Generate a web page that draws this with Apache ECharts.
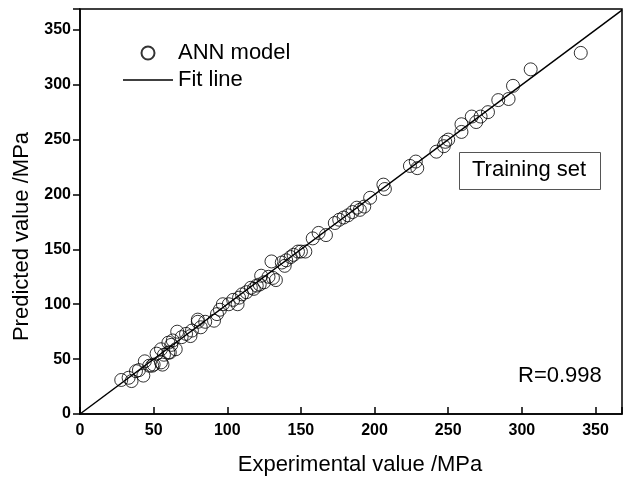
<!DOCTYPE html>
<html>
<head>
<meta charset="utf-8">
<script src="https://cdn.jsdelivr.net/npm/echarts@6/dist/echarts.min.js"></script>
<style>html,body{margin:0;padding:0;background:#fff;}#c{width:625px;height:481px;}</style>
</head>
<body>
<div id="c"></div>
<script>
var experimental = [28,33,35,38,40,43,44,47,49,50,52,55,55,56,57,60,60,61,62,63,65,66,69,72,75,76,80,80,82,85,91,93,95,97,101,104,107,108,110,113,116,118,120,122,123,125,128,130,131,133,137,139,140,143,145,148,150,153,158,162,167,173,176,179,182,185,188,190,193,197,206,207,224,228,229,242,247,248,250,259,259,266,269,272,277,284,291,294,306,340];
var predicted    = [31,33,30,39,40,35,48,44,44,45,55,47,59,45,54,56,65,56,63,67,59,75,70,73,71,76,86,84,79,84,85,91,95,100,100,104,100,106,109,111,115,114,117,118,126,120,125,139,124,122,138,135,140,143,145,148,148,148,160,165,163,174,177,179,181,184,188,186,189,197,209,205,226,230,224,239,244,248,250,257,264,271,266,271,275,286,287,299,314,329];
var fitLine = [[0,0],[368,368]];
var xTicks = [0,50,100,150,200,250,300,350];
var yTicks = [0,50,100,150,200,250,300,350];
var rValue = 'R=0.998';
var boxLabel = 'Training set';

var points = experimental.map(function(x,i){return [x, predicted[i]];});
var FONT = 'Liberation Sans, Arial, sans-serif';
var chart = echarts.init(document.getElementById('c'), null, {renderer:'canvas'});
chart.setOption({
  animation:false,
  backgroundColor:'#fff',
  grid:{left:80, top:9, width:545, height:406, show:true, borderColor:'#000', borderWidth:1.5},
  legend:{
    orient:'vertical', left:118, top:37, itemWidth:50, itemHeight:13, itemGap:5,
    textStyle:{fontFamily:FONT, fontSize:22, color:'#000'},
    data:[
      {name:'ANN model', icon:'circle'},
      {name:'Fit line', icon:'path://M0,0L50,0L50,1.5L0,1.5Z'}
    ]
  },
  xAxis:{
    type:'value', min:0, max:368, interval:50,
    name:'Experimental value /MPa', nameLocation:'middle', nameGap:40,
    nameTextStyle:{fontFamily:FONT, fontSize:22, color:'#000', padding:[0,0,0,18]},
    axisLine:{lineStyle:{color:'#000', width:1.5}},
    axisTick:{inside:true, length:7, lineStyle:{color:'#000', width:1.5}},
    axisLabel:{fontFamily:FONT, fontSize:16, fontWeight:'bold', color:'#000', margin:9,
      formatter:function(v){return xTicks.indexOf(v)>=0 ? String(v) : '';}},
    splitLine:{show:false}
  },
  yAxis:{
    type:'value', min:0, max:369, interval:50,
    name:'Predicted value /MPa', nameLocation:'middle', nameGap:47, nameRotate:90,
    nameTextStyle:{fontFamily:FONT, fontSize:22, color:'#000', padding:[0,50,0,0]},
    axisLine:{lineStyle:{color:'#000', width:1.5}},
    axisTick:{inside:false, length:7, lineStyle:{color:'#000', width:1.5}},
    axisLabel:{fontFamily:FONT, fontSize:16, fontWeight:'bold', color:'#000', margin:9,
      formatter:function(v){return yTicks.indexOf(v)>=0 ? String(v) : '';}},
    splitLine:{show:false}
  },
  series:[
    {
      name:'ANN model', type:'scatter', data:points, symbol:'circle', symbolSize:13,
      itemStyle:{color:'rgba(0,0,0,0)', borderColor:'#000', borderWidth:1},
      z:3
    },
    {
      name:'Fit line', type:'line', data:fitLine, symbol:'none',
      lineStyle:{color:'#000', width:1.5}, itemStyle:{color:'#000'}, z:2
    }
  ],
  graphic:[
    {type:'rect', left:459, top:152, shape:{width:141, height:37},
      style:{fill:'#fff', stroke:'#555', lineWidth:1}},
    {type:'text', left:472, top:159,
      style:{text:boxLabel, font:'22px '+FONT, fill:'#000'}},
    {type:'text', left:518, top:365,
      style:{text:rValue, font:'22px '+FONT, fill:'#000'}}
  ]
});
</script>
</body>
</html>
